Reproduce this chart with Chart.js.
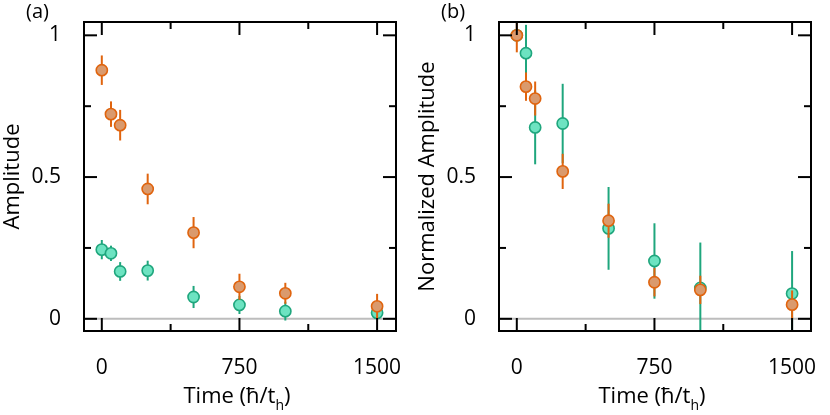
<!DOCTYPE html>
<html><head><meta charset="utf-8">
<script src="https://cdn.jsdelivr.net/npm/chart.js@4.4.0/dist/chart.umd.min.js"></script>
<style>
html,body{margin:0;padding:0;background:#fff;}
#wrap{display:flex;width:830px;height:415px;}
.panel{position:relative;width:415px;height:415px;}
</style></head><body>
<div id="wrap"><div class="panel"><canvas id="ca" width="415" height="415"></canvas></div><div class="panel"><canvas id="cb" width="415" height="415"></canvas></div></div>
<script>
// ---- data ----
const times = [0, 50, 100, 250, 500, 750, 1000, 1500];
const ampOrange = [0.877, 0.722, 0.683, 0.458, 0.304, 0.113, 0.090, 0.044];
const errOrange = [0.052, 0.045, 0.054, 0.054, 0.055, 0.046, 0.037, 0.044];
const ampGreen = [0.244, 0.231, 0.167, 0.170, 0.077, 0.049, 0.027, 0.021];
const errGreen = [0.034, 0.027, 0.033, 0.035, 0.039, 0.032, 0.033, 0.020];
const normOrange = [1.000, 0.819, 0.777, 0.520, 0.346, 0.129, 0.102, 0.050];
const normErrOrange = [0.060, 0.050, 0.060, 0.062, 0.060, 0.050, 0.050, 0.050];
const normGreen = [1.000, 0.937, 0.675, 0.689, 0.319, 0.204, 0.109, 0.089];
const normErrGreen = [0, 0.100, 0.130, 0.140, 0.146, 0.133, 0.160, 0.150];
const xTickValues = [0, 750, 1500];
const xTickLabels = ['0', '750', '1500'];
const xMinorTicks = [375, 1125];
const yTickValues = [0, 0.5, 1];
const yTickLabels = ['0', '0.5', '1'];
const yMinorTicks = [0.25, 0.75];

const FONT = "'Open Sans', 'Noto Sans', sans-serif";
const ORANGE_EDGE = '#e0640e', ORANGE_FILL = '#da9a6d';
const GREEN_EDGE = '#1fa67d', GREEN_FILL = '#6de3c1';

const errorBars = {
  id: 'errorBars',
  beforeDatasetDraw(chart, args) {
    const ds = chart.data.datasets[args.index];
    const ys = chart.scales.y, a = chart.chartArea, ctx = chart.ctx;
    ctx.save();
    ctx.beginPath(); ctx.rect(a.left, a.top, a.right - a.left, a.bottom - a.top); ctx.clip();
    ctx.strokeStyle = ds.borderColor; ctx.lineWidth = 2;
    args.meta.data.forEach((pt, i) => {
      const e = ds.errors[i]; if (!e) return;
      const v = ds.data[i].y;
      ctx.beginPath();
      ctx.moveTo(pt.x, ys.getPixelForValue(v - e));
      ctx.lineTo(pt.x, ys.getPixelForValue(v + e));
      ctx.stroke();
    });
    ctx.restore();
  }
};

const zeroLine = {
  id: 'zeroLine',
  beforeDatasetsDraw(chart) {
    const a = chart.chartArea, ctx = chart.ctx, y = chart.scales.y.getPixelForValue(0);
    ctx.save(); ctx.strokeStyle = '#bdbdbd'; ctx.lineWidth = 2;
    ctx.beginPath(); ctx.moveTo(a.left, y); ctx.lineTo(a.right, y); ctx.stroke(); ctx.restore();
  }
};

const frameTicks = {
  id: 'frameTicks',
  afterDraw(chart, args, opts) {
    const a = chart.chartArea, ctx = chart.ctx, xs = chart.scales.x, ys = chart.scales.y;
    ctx.save();
    ctx.strokeStyle = '#000'; ctx.lineWidth = 2;
    ctx.strokeRect(a.left, a.top, a.right - a.left, a.bottom - a.top);
    const seg = (x1, y1, x2, y2) => { ctx.beginPath(); ctx.moveTo(x1, y1); ctx.lineTo(x2, y2); ctx.stroke(); };
    const MAJ = 13, MIN = 7;
    xTickValues.forEach(v => { const p = xs.getPixelForValue(v); seg(p, a.bottom, p, a.bottom - MAJ); seg(p, a.top, p, a.top + MAJ); });
    xMinorTicks.forEach(v => { const p = xs.getPixelForValue(v); seg(p, a.bottom, p, a.bottom - MIN); seg(p, a.top, p, a.top + MIN); });
    yTickValues.forEach(v => { const p = ys.getPixelForValue(v); seg(a.left, p, a.left + MAJ, p); seg(a.right, p, a.right - MAJ, p); });
    yMinorTicks.forEach(v => { const p = ys.getPixelForValue(v); seg(a.left, p, a.left + MIN, p); seg(a.right, p, a.right - MIN, p); });
    // panel label
    ctx.fillStyle = '#000'; ctx.textAlign = 'left'; ctx.textBaseline = 'alphabetic';
    ctx.font = '20px ' + FONT;
    ctx.fillText(opts.label, 26, 18);
    // x title with subscript
    const main = 'Time (\u0127/t', sub = 'h', close = ')';
    const fBig = '22px ' + FONT, fSmall = '14px ' + FONT;
    ctx.font = fBig; const w1 = ctx.measureText(main).width, w3 = ctx.measureText(close).width;
    ctx.font = fSmall; const w2 = ctx.measureText(sub).width;
    const total = w1 + w2 + w3;
    let x0 = (a.left + a.right) / 2 - 3 - total / 2;
    const base = 403;
    ctx.font = fBig; ctx.fillText(main, x0, base);
    ctx.font = fSmall; ctx.fillText(sub, x0 + w1, base + 7);
    ctx.font = fBig; ctx.fillText(close, x0 + w1 + w2, base);
    ctx.restore();
  }
};

function makeChart(id, label, yTitle, oVals, oErr, gVals, gErr) {
  return new Chart(document.getElementById(id), {
    type: 'scatter',
    data: {
      datasets: [
        { label: 'orange', data: times.map((t, i) => ({ x: t, y: oVals[i] })), errors: oErr, order: 1,
          backgroundColor: ORANGE_FILL, borderColor: ORANGE_EDGE, borderWidth: 1.6, pointRadius: 5.6, pointHoverRadius: 5.6 },
        { label: 'green', data: times.map((t, i) => ({ x: t, y: gVals[i] })), errors: gErr, order: 2,
          backgroundColor: GREEN_FILL, borderColor: GREEN_EDGE, borderWidth: 1.6, pointRadius: 5.6, pointHoverRadius: 5.6 }
      ]
    },
    options: {
      responsive: false, animation: false, devicePixelRatio: 1,
      layout: { padding: { top: 22, right: 19, left: 0, bottom: 0 } },
      plugins: { legend: { display: false }, tooltip: { enabled: false }, frameTicks: { label: label } },
      scales: {
        x: {
          type: 'linear', min: -97, max: 1603,
          afterBuildTicks: s => { s.ticks = xTickValues.map(v => ({ value: v })); },
          afterFit: s => { s.height = 84; s.paddingLeft = 0; s.paddingRight = 0; },
          grid: { display: false, drawTicks: false }, border: { display: false },
          ticks: { color: '#000', font: { family: FONT, size: 21 }, padding: 24, maxRotation: 0,
                   callback: v => xTickLabels[xTickValues.indexOf(v)] }
        },
        y: {
          type: 'linear', min: -0.043, max: 1.047,
          afterBuildTicks: s => { s.ticks = yTickValues.map(v => ({ value: v })); },
          afterFit: s => { s.width = 84; s.paddingTop = 0; s.paddingBottom = 0; },
          grid: { display: false, drawTicks: false }, border: { display: false },
          ticks: { color: '#000', font: { family: FONT, size: 21 }, padding: 23,
                   callback: v => yTickLabels[yTickValues.indexOf(v)] },
          title: { display: true, text: yTitle, color: '#000', font: { family: FONT, size: 22 }, padding: 0 }
        }
      }
    },
    plugins: [errorBars, zeroLine, frameTicks]
  });
}

makeChart('ca', '(a)', 'Amplitude', ampOrange, errOrange, ampGreen, errGreen);
makeChart('cb', '(b)', 'Normalized Amplitude', normOrange, normErrOrange, normGreen, normErrGreen);
</script>
</body></html>
